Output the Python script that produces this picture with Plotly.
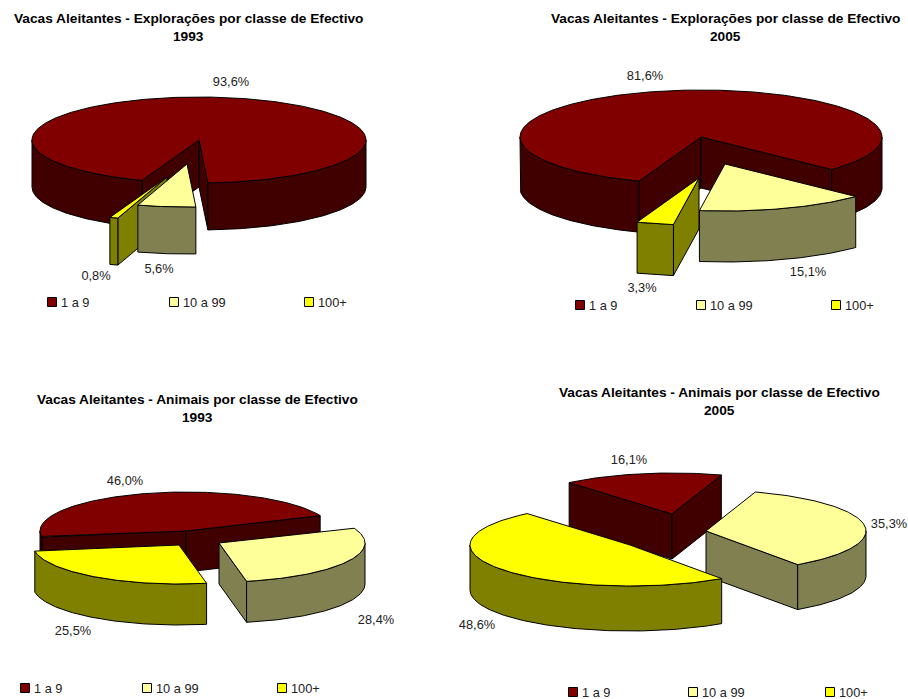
import numpy as np
import plotly.graph_objects as go

# ---- data ----
categories = ["1 a 9", "10 a 99", "100+"]
exploracoes_1993 = [93.6, 5.6, 0.8]
exploracoes_2005 = [81.6, 15.1, 3.3]
animais_1993 = [46.0, 28.4, 25.5]
animais_2005 = [16.1, 35.3, 48.6]
labels_exploracoes_1993 = ["93,6%", "5,6%", "0,8%"]
labels_exploracoes_2005 = ["81,6%", "15,1%", "3,3%"]
labels_animais_1993 = ["46,0%", "28,4%", "25,5%"]
labels_animais_2005 = ["16,1%", "35,3%", "48,6%"]
title_exploracoes = "Vacas Aleitantes - Explorações por classe de Efectivo"
title_animais = "Vacas Aleitantes - Animais por classe de Efectivo"

# ---- styles ----
TOP = ["#800000", "#FFFF99", "#FFFF00"]
WALL = ["#400000", "#808050", "#808000"]
FONT = "Liberation Sans, Arial, sans-serif"

charts = [
    dict(values=exploracoes_1993, labels=labels_exploracoes_1993, title=title_exploracoes, year="1993",
         cx=199, cy=140, rx=167, ry=43, depth=47, start=200,
         offsets=[(0, 0), (-12, 24), (-32, 37)],
         label_pos=[(231, 83), (159, 270), (96, 277)],
         title_pos=(188, 18), legend_x=[52, 174, 309], legend_y=302),
    dict(values=exploracoes_2005, labels=labels_exploracoes_2005, title=title_exploracoes, year="2005",
         cx=701, cy=137, rx=181, ry=47, depth=51, start=200,
         offsets=[(0, 0), (24, 27), (-2, 41)],
         label_pos=[(645, 77), (808, 273), (642, 289)],
         title_pos=(725, 18), legend_x=[580, 701, 836], legend_y=305),
    dict(values=animais_1993, labels=labels_animais_1993, title=title_animais, year="1993",
         cx=186, cy=531, rx=146, ry=39, depth=41, start=261,
         offsets=[(0, 0), (33, 12), (-7, 14)],
         label_pos=[(125, 482), (376, 621), (73, 632)],
         title_pos=(197, 399), legend_x=[25, 147, 282], legend_y=688),
    dict(values=animais_2005, labels=labels_animais_2005, title=title_animais, year="2005",
         cx=630, cy=545, rx=160, ry=41, depth=45, start=320,
         offsets=[(42, -31), (76, -14), (0, 0)],
         label_pos=[(629, 461), (889, 525), (477, 626)],
         title_pos=(719, 392), legend_x=[573, 693, 830], legend_y=692),
]

fig = go.Figure()


def poly(xs, ys, color):
    fig.add_trace(go.Scatter(
        x=list(xs) + [xs[0]], y=list(ys) + [ys[0]], mode="lines", fill="toself",
        fillcolor=color, line=dict(color="black", width=1), hoverinfo="skip", showlegend=False))


def rim(a, b, ch, ox, oy):
    t = np.radians(np.linspace(a, b, max(3, int(abs(b - a)) + 1)))
    return ch["cx"] + ox + ch["rx"] * np.sin(t), ch["cy"] + oy - ch["ry"] * np.cos(t)


for ch in charts:
    d = ch["depth"]
    total = sum(ch["values"])
    angle = ch["start"]
    slices = []
    for i, v in enumerate(ch["values"]):
        a, b = angle, angle + v / total * 360
        angle = b
        mid = ((a + b) / 2) % 360
        slices.append((-abs(mid - 180), i, a, b))
    # paint the slices furthest from the viewer first
    for _, i, a, b in sorted(slices):
        ox, oy = ch["offsets"][i]
        ax, ay = ch["cx"] + ox, ch["cy"] + oy
        # cut faces, only those turned towards the viewer
        for e, visible in ((a, np.sin(np.radians(a)) < 0), (b, np.sin(np.radians(b)) > 0)):
            if visible:
                ex, ey = rim(e, e, ch, ox, oy)
                poly([ax, ex[0], ex[0], ax], [ay, ey[0], ey[0] + d, ay + d], WALL[i])
        # outer rim, front half only
        for lo, hi in ((90, 270), (450, 630)):
            l, h = max(a, lo), min(b, hi)
            if h > l:
                rx_, ry_ = rim(l, h, ch, ox, oy)
                poly(list(rx_) + list(rx_[::-1]), list(ry_) + list(ry_[::-1] + d), WALL[i])
        # top face
        rx_, ry_ = rim(a, b, ch, ox, oy)
        poly([ax] + list(rx_), [ay] + list(ry_), TOP[i])

    # legend
    fig.add_trace(go.Scatter(
        x=ch["legend_x"], y=[ch["legend_y"]] * 3, mode="markers",
        marker=dict(symbol="square", size=9, color=TOP, line=dict(color="black", width=1)),
        hoverinfo="skip", showlegend=False))
    fig.add_trace(go.Scatter(
        x=[x + 9 for x in ch["legend_x"]], y=[ch["legend_y"] + 1.5] * 3, mode="text", text=categories,
        textposition="middle right",
        textfont=dict(family=FONT, size=12.8, color="#222"),
        hoverinfo="skip", showlegend=False))

    # value labels
    fig.add_trace(go.Scatter(
        x=[p[0] for p in ch["label_pos"]], y=[p[1] for p in ch["label_pos"]],
        mode="text", text=ch["labels"], textposition="middle center",
        textfont=dict(family=FONT, size=12.8, color="#222"),
        hoverinfo="skip", showlegend=False))

    # title
    tx, ty = ch["title_pos"]
    fig.add_annotation(x=tx, y=ty, text=f"<b>{ch['title']}</b>", showarrow=False,
                       font=dict(family=FONT, size=13.7, color="black"))
    fig.add_annotation(x=tx, y=ty + 18, text=f"<b>{ch['year']}</b>", showarrow=False,
                       font=dict(family=FONT, size=13.7, color="black"))

fig.update_layout(
    width=908, height=699, margin=dict(l=0, r=0, t=0, b=0),
    paper_bgcolor="white", plot_bgcolor="white", showlegend=False,
    xaxis=dict(range=[0, 908], visible=False, fixedrange=True),
    yaxis=dict(range=[699, 0], visible=False, fixedrange=True),
)
fig.write_html("out.html", config=dict(displayModeBar=False),
               default_width="908px", default_height="699px",
               post_script="document.body.style.margin='0';document.body.style.overflow='hidden';")
